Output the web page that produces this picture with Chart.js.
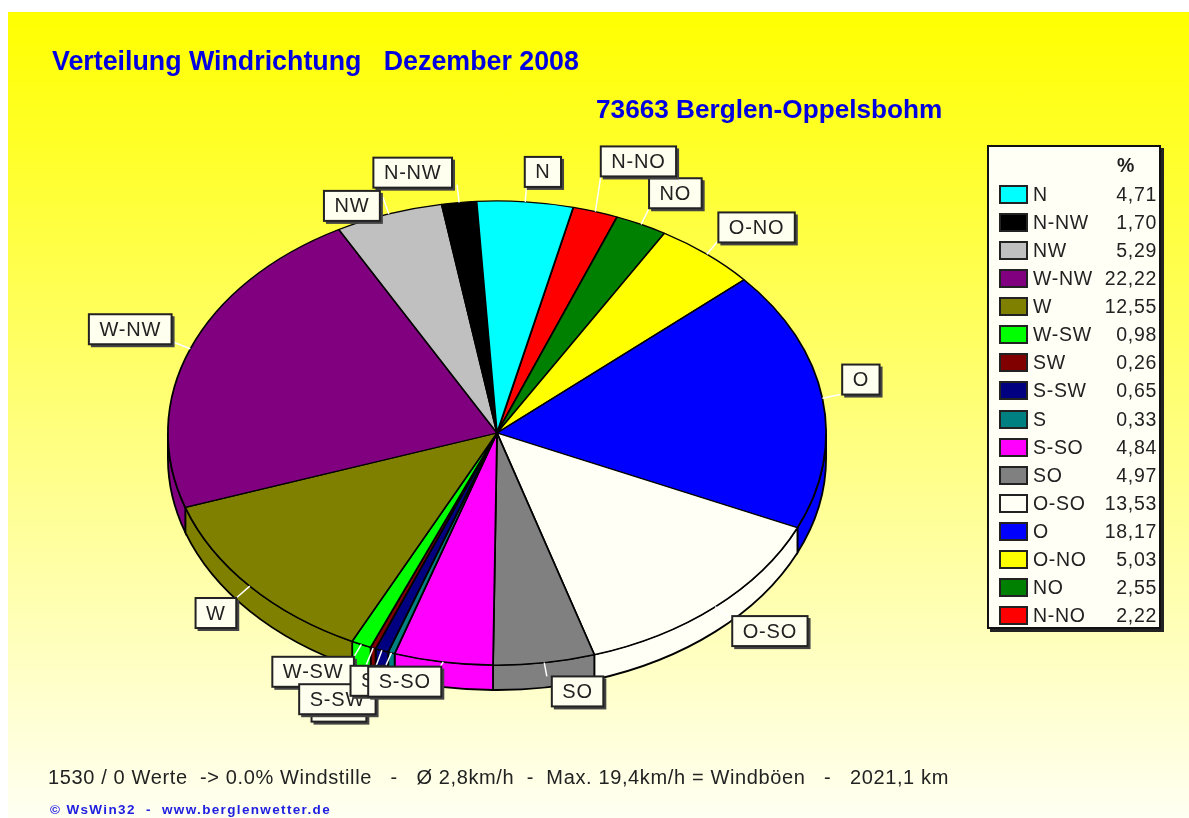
<!DOCTYPE html>
<html lang="de">
<head>
<meta charset="UTF-8">
<title>Verteilung Windrichtung</title>
<script src="https://cdn.jsdelivr.net/npm/chart.js"></script>
<style>
    html, body { margin: 0; padding: 0; background: #fff; overflow: hidden; }
    body { width: 1189px; height: 818px; position: relative; font-family: "Liberation Sans", Arial, sans-serif; }
    #bg { position: absolute; left: 8px; top: 12px; width: 1181px; height: 806px; background: linear-gradient(#ffff00, #fffff2); }
    #pie { position: absolute; left: 0; top: 0; }
    .t { position: absolute; white-space: pre; }
    .title { color: #0000e0; font-weight: bold; line-height: 30px; }
    #legend { position: absolute; left: 987px; top: 145px; width: 170px; height: 480px; background: #fffff6; border: 2px solid #111; box-shadow: 3px 3px 0 #222; }
    #legend .sw { position: absolute; left: 10px; width: 25px; height: 15px; border: 2px solid #222; }
    #legend .t { font-size: 19.5px; line-height: 22px; color: #222; letter-spacing: 0.7px; }
</style>
</head>
<body>
<div id="bg"></div>
<canvas id="pie" width="1189" height="818"></canvas>
<div class="t title" style="left:52px;top:46px;font-size:26.8px">Verteilung Windrichtung   Dezember 2008</div>
<div class="t title" style="left:596px;top:94px;font-size:26.2px">73663 Berglen-Oppelsbohm</div>
<div id="legend"></div>
<div class="t" style="left:48px;top:765px;font-size:20px;line-height:24px;color:#222;letter-spacing:0.63px">1530 / 0 Werte  -&gt; 0.0% Windstille   -   Ø 2,8km/h  -  Max. 19,4km/h = Windböen   -   2021,1 km</div>
<div class="t" style="left:50px;top:802px;font-size:13.5px;line-height:16px;color:#2020e0;font-weight:bold;letter-spacing:1.35px">© WsWin32  -  www.berglenwetter.de</div>
<script>
// legend order (runs counter clockwise round the pie)
const directions = ['N', 'N-NW', 'NW', 'W-NW', 'W', 'W-SW', 'SW', 'S-SW', 'S', 'S-SO', 'SO', 'O-SO', 'O', 'O-NO', 'NO', 'N-NO'];
const percents = [4.71, 1.70, 5.29, 22.22, 12.55, 0.98, 0.26, 0.65, 0.33, 4.84, 4.97, 13.53, 18.17, 5.03, 2.55, 2.22];
const colors = ['#00ffff', '#000000', '#c0c0c0', '#800080', '#808000', '#00ff00', '#800000', '#000080',
    '#008080', '#ff00ff', '#808080', '#fffff6', '#0000ff', '#ffff00', '#008000', '#ff0000'];

// the callouts that were pushed away from each other in the original [dx, dy]
const labelShift = {
    'N': [-2, 3], 'N-NW': [-5, 3], 'NW': [-3, 24], 'W-NW': [-2, 2], 'O-NO': [0, 2],
    'N-NO': [0, -18], 'S-SO': [1, -13], 'S-SW': [0, 17], 'SW': [0, 27], 'W-SW': [0, -4],
    'S': [0, -4], 'O-SO': [5, -4], 'SO': [5, -4], 'O': [2, -1]
};

const squash = 0.705;
const depth = 25;
const leader = 18;

// legend box
const legend = document.getElementById('legend');
function legendText(txt, css) {
    const d = document.createElement('div');
    d.className = 't';
    d.style.cssText = css;
    d.textContent = txt;
    legend.appendChild(d);
}
legendText('%', 'left:128px;top:7px;font-weight:bold');
directions.forEach((dir, i) => {
    const y = 47 + i * 28.07;
    const sw = document.createElement('div');
    sw.className = 'sw';
    sw.style.top = (y - 9) + 'px';
    sw.style.background = colors[i];
    legend.appendChild(sw);
    legendText(dir, `left:44px;top:${y - 11}px`);
    legendText(percents[i].toFixed(2).replace('.', ','), `right:2px;top:${y - 11}px`);
});

// side wall + flattening of the pie
const tiltPlugin = {
    id: 'tilt',
    beforeDatasetsDraw(chart) {
        const ctx = chart.ctx;
        const arcs = chart.getDatasetMeta(0).data;
        const first = arcs[0];
        const cx = first.x, cy = first.y, rx = first.outerRadius, ry = rx * squash;
        arcs.forEach(arc => {
            // angles may run past a full turn, the lower half is also at 2pi..3pi
            [[Math.max(arc.startAngle, 0), Math.min(arc.endAngle, Math.PI)],
             [Math.max(arc.startAngle, 2 * Math.PI), Math.min(arc.endAngle, 3 * Math.PI)]].forEach(([s, e]) => {
                if (e <= s) return;
                ctx.beginPath();
                ctx.ellipse(cx, cy, rx, ry, 0, s, e);
                ctx.ellipse(cx, cy + depth, rx, ry, 0, e, s, true);
                ctx.closePath();
                ctx.fillStyle = arc.options.backgroundColor;
                ctx.fill();
                ctx.lineWidth = 1.8;
                ctx.strokeStyle = '#000';
                ctx.stroke();
            });
        });
        ctx.save();
        ctx.translate(0, cy);
        ctx.scale(1, squash);
        ctx.translate(0, -cy);
    },
    afterDatasetsDraw(chart) {
        const ctx = chart.ctx;
        ctx.restore();
        const arcs = chart.getDatasetMeta(0).data;
        const names = chart.data.labels;
        const cx = arcs[0].x, cy = arcs[0].y, rx = arcs[0].outerRadius, ry = rx * squash;
        ctx.font = '20px "Liberation Sans", Arial, sans-serif';
        ctx.letterSpacing = '0.8px';
        ctx.textBaseline = 'middle';
        ctx.textAlign = 'center';

        const items = arcs.map((arc, i) => {
            const mid = (arc.startAngle + arc.endAngle) / 2;
            const c = Math.cos(mid), s = Math.sin(mid);
            return {
                name: names[i],
                x0: cx + rx * c, y0: cy + ry * s,
                x1: cx + (rx + leader) * c, y1: cy + (ry + leader) * s,
                right: c >= 0, lower: s >= 0
            };
        });
        // leaders first, then the boxes in legend order so the overlaps stack the same
        ctx.strokeStyle = '#fff';
        ctx.lineWidth = 1.5;
        items.forEach(it => {
            const dy = (labelShift[it.name] || [0, 0])[1];
            ctx.beginPath();
            ctx.moveTo(it.x0, it.y0);
            ctx.lineTo(it.x1, it.y1 + Math.min(dy, 0));
            ctx.stroke();
        });
        directions.forEach(dir => {
            const it = items.find(o => o.name === dir);
            const shift = labelShift[dir] || [0, 0];
            const w = ctx.measureText(dir).width + 21;
            const h = 30;
            const left = (it.right ? it.x1 : it.x1 - w) + shift[0];
            const top = (it.lower ? it.y1 : it.y1 - h) + shift[1];
            ctx.fillStyle = '#444';
            ctx.fillRect(left + 2, top + 2, w + 1, h + 1);
            ctx.fillStyle = '#fffff0';
            ctx.fillRect(left, top, w, h);
            ctx.strokeStyle = '#222';
            ctx.lineWidth = 2;
            ctx.strokeRect(left, top, w, h);
            ctx.fillStyle = '#222';
            ctx.fillText(dir, left + w / 2, top + h / 2 + 1);
        });
    }
};

// the pie runs clockwise, so the chart gets the legend order backwards
new Chart(document.getElementById('pie').getContext('2d'), {
    type: 'pie',
    data: {
        labels: directions.slice().reverse(),
        datasets: [{
            data: percents.slice().reverse(),
            backgroundColor: colors.slice().reverse(),
            borderColor: '#000',
            borderWidth: 1.8,
            clip: false
        }]
    },
    options: {
        responsive: false,
        animation: false,
        rotation: 13.4,
        layout: { padding: { left: 167, right: 362, top: 103, bottom: 55 } },
        plugins: { legend: { display: false }, tooltip: { enabled: false } }
    },
    plugins: [tiltPlugin]
});
</script>
</body>
</html>
